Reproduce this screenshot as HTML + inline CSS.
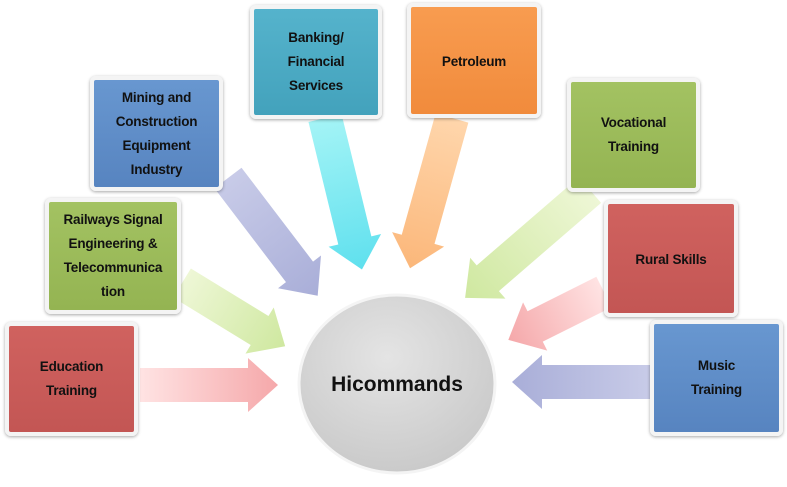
<!DOCTYPE html>
<html><head><meta charset="utf-8"><style>
body{margin:0;background:#fff;width:787px;height:487px;overflow:hidden;position:relative;font-family:"Liberation Sans",sans-serif}
.b{position:absolute;box-sizing:border-box;border:4px solid #f4f4f4;border-radius:6px;box-shadow:0 1px 3px rgba(0,0,0,.35);display:flex;align-items:center;justify-content:center;text-align:center;color:#111;font-weight:bold;font-size:13.5px;letter-spacing:-0.2px;line-height:24px}
.r{background:linear-gradient(#d0625f,#c35654)}
.g{background:linear-gradient(#a3c262,#94b452)}
.u{background:linear-gradient(#6897d0,#5784c0)}
.t{background:linear-gradient(#55b3cc,#43a2bc)}
.o{background:linear-gradient(#f89c50,#f18b3c)}
</style></head><body>
<svg width="787" height="487" style="position:absolute;left:0;top:0">
<defs>
<radialGradient id="cg" cx="45%" cy="35%" r="70%"><stop offset="0" stop-color="#e4e4e4"/><stop offset="1" stop-color="#c8c8c8"/></radialGradient>
<linearGradient id="ap"><stop offset="0" stop-color="#ffe3e3"/><stop offset="1" stop-color="#f5a8aa"/></linearGradient>
<linearGradient id="ag"><stop offset="0" stop-color="#eef7d6"/><stop offset="1" stop-color="#cfe8a0"/></linearGradient>
<linearGradient id="al"><stop offset="0" stop-color="#c8cbe8"/><stop offset="1" stop-color="#a9aed8"/></linearGradient>
<linearGradient id="ac"><stop offset="0" stop-color="#a4f4f6"/><stop offset="1" stop-color="#5fe0ee"/></linearGradient>
<linearGradient id="ao"><stop offset="0" stop-color="#ffd6ac"/><stop offset="1" stop-color="#fbb77a"/></linearGradient>
</defs>
<g transform="translate(140,385) rotate(0)"><polygon points="0,-17 108,-17 108,-27 138,0 108,27 108,17 0,17" fill="url(#ap)"/></g>
<g transform="translate(182,283) rotate(31.5)"><polygon points="0,-17 91,-17 91,-27 121,0 91,27 91,17 0,17" fill="url(#ag)"/></g>
<g transform="translate(228,178) rotate(52.7)"><polygon points="0,-17 118,-17 118,-27 148,0 118,27 118,17 0,17" fill="url(#al)"/></g>
<g transform="translate(325,118) rotate(76.3)"><polygon points="0,-17 126,-17 126,-27 156,0 126,27 126,17 0,17" fill="url(#ac)"/></g>
<g transform="translate(452,118) rotate(105.6)"><polygon points="0,-17 126,-17 126,-27 156,0 126,27 126,17 0,17" fill="url(#ao)"/></g>
<g transform="translate(590,190) rotate(139.2)"><polygon points="0,-17 135,-17 135,-27 165,0 135,27 135,17 0,17" fill="url(#ag)"/></g>
<g transform="translate(604,292) rotate(153.4)"><polygon points="0,-17 77,-17 77,-27 107,0 77,27 77,17 0,17" fill="url(#ap)"/></g>
<g transform="translate(650,382) rotate(180)"><polygon points="0,-17 108,-17 108,-27 138,0 108,27 108,17 0,17" fill="url(#al)"/></g>
<ellipse cx="397" cy="384" rx="98" ry="89" fill="url(#cg)" stroke="#f4f4f4" stroke-width="3"/>
<text x="397" y="391" text-anchor="middle" font-family="Liberation Sans" font-weight="bold" font-size="21" fill="#111">Hicommands</text>
</svg>
<div class="b r" style="left:5px;top:322px;width:133px;height:114px">Education<br>Training</div>
<div class="b g" style="left:45px;top:198px;width:136px;height:116px">Railways Signal<br>Engineering &amp;<br>Telecommunica<br>tion</div>
<div class="b u" style="left:90px;top:76px;width:133px;height:115px">Mining and<br>Construction<br>Equipment<br>Industry</div>
<div class="b t" style="left:250px;top:5px;width:132px;height:114px">Banking/<br>Financial<br>Services</div>
<div class="b o" style="left:407px;top:3px;width:134px;height:115px;align-items:flex-start;padding-top:43px">Petroleum</div>
<div class="b g" style="left:567px;top:78px;width:133px;height:114px">Vocational<br>Training</div>
<div class="b r" style="left:604px;top:200px;width:134px;height:117px;align-items:flex-start;padding-top:44px">Rural Skills</div>
<div class="b u" style="left:650px;top:320px;width:133px;height:116px">Music<br>Training</div>
</body></html>
